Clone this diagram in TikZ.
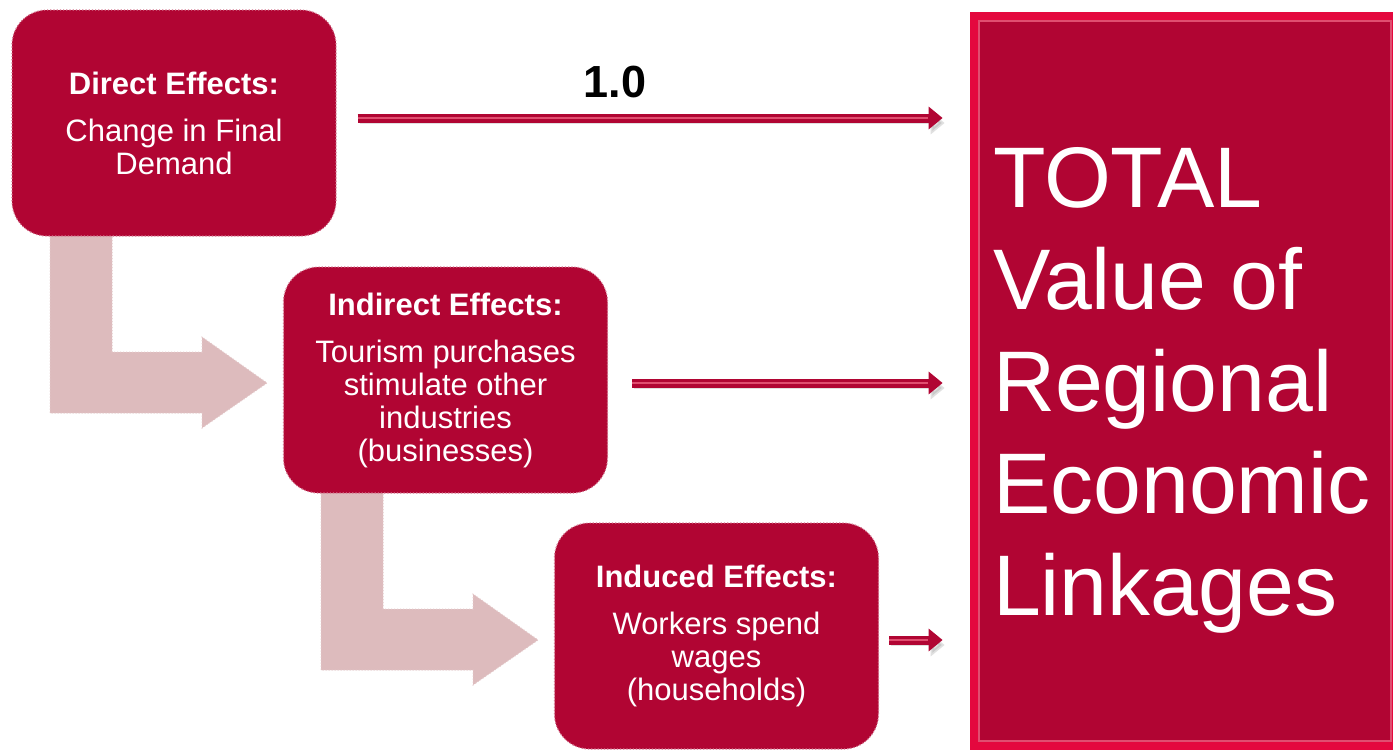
\documentclass[tikz,border=0pt]{standalone}
\usepackage{fontspec}
\setmainfont{Liberation Sans}
\usetikzlibrary{arrows.meta}

\definecolor{effectred}{RGB}{177,5,51}
\definecolor{rimred}{RGB}{228,8,62}
\definecolor{flowpink}{RGB}{221,187,189}
\definecolor{glint}{RGB}{224,78,112}

\tikzset{
  effectbox/.style={rounded corners=17.5pt, fill=effectred, draw=effectred!55!white,
    densely dotted, line width=0.6pt, minimum width=162pt, minimum height=113pt,
    text=white, align=center, font=\fontsize{15.5}{16.5}\selectfont},
  flowarrow/.style={fill=flowpink, draw=flowpink!80!white, densely dotted, line width=0.5pt},
  linkarrow/.style={draw=effectred, line width=4.5pt, -{Triangle[length=7pt,width=11pt]},
    preaction={draw=black!40, opacity=0.3, transform canvas={shift={(1pt,-2.5pt)}}},
    postaction={draw=glint, line width=0.9pt, -, shorten >=21pt}},
  totalbox/.style={fill=rimred, minimum width=215pt, minimum height=369pt, inner sep=0pt,
    path picture={
      \fill[effectred] ([shift={(4.5pt,-4.5pt)}]path picture bounding box.north west)
        rectangle ([shift={(-4.5pt,4.5pt)}]path picture bounding box.south east);
      \draw[glint, line width=0.7pt] ([shift={(4.5pt,-4.5pt)}]path picture bounding box.north west)
        rectangle ([shift={(-4.5pt,4.5pt)}]path picture bounding box.south east);
    }},
  totaltext/.style={text=white, align=left, inner sep=0pt, font=\fontsize{43}{51}\selectfont},
}

\begin{document}
\begin{tikzpicture}[x=0.5pt, y=-0.5pt]
    \path[use as bounding box, clip] (0,0) rectangle (1393,750);
    \fill[white] (0,0) rectangle (1393,750);

    % Bent arrows stepping down from one effect to the next
    \foreach \dx/\dy in {0/0, 271/257} {
        \begin{scope}[shift={(\dx,\dy)}]
            \draw[flowarrow] (50,236) -- (112,236) -- (112,352) -- (202,352) -- (202,337)
                -- (267,383) -- (202,428) -- (202,413) -- (50,413) -- cycle;
        \end{scope}
    }

    % Effect boxes
    \node[effectbox] (direct) at (174,123) {\textbf{Direct Effects:}\\[7pt] Change in Final\\ Demand};
    \node[effectbox] (indirect) at (445.5,380) {\textbf{Indirect Effects:}\\[7pt] Tourism purchases\\ stimulate other\\ industries\\ (businesses)};
    \node[effectbox] (induced) at (716.5,636) {\textbf{Induced Effects:}\\[7pt] Workers spend\\ wages\\ (households)};

    % Total box
    \node[totalbox] (total) at (1185,381) {};
    \node[totaltext, anchor=west] (totallabel) at ([xshift=11.5pt,yshift=-4.5pt]total.west)
        {TOTAL\\ Value of\\ Regional\\ Economic\\ Linkages};

    % Links into the total
    \coordinate (d1) at ([yshift=2.5pt]direct.east);
    \coordinate (i1) at ([yshift=-1.5pt]indirect.east);
    \coordinate (n1) at ([yshift=-2pt]induced.east);
    \draw[linkarrow, shorten <=10.5pt, shorten >=13.5pt] (d1) -- (d1 -| total.west)
        node[pos=0.44, anchor=south, yshift=8pt, inner sep=0pt, text=black,
             font=\fontsize{22.5}{24}\selectfont\bfseries] (gain) {1.0};
    \draw[linkarrow, shorten <=12pt, shorten >=13.5pt] (i1) -- (i1 -| total.west);
    \draw[linkarrow, shorten <=5pt, shorten >=13.5pt] (n1) -- (n1 -| total.west);
\end{tikzpicture}
\end{document}
